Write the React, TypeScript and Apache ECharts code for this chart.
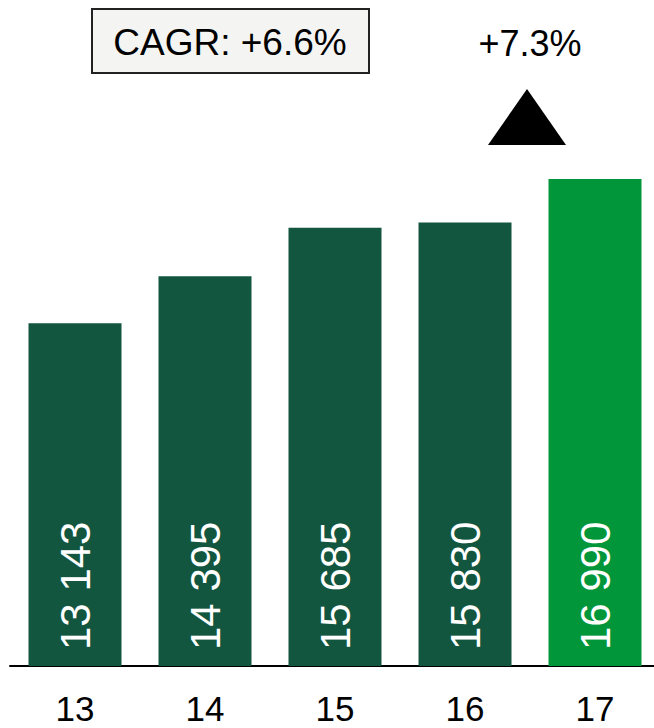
import React, { useEffect, useRef } from "react";
import * as echarts from "echarts";

const categories = ["13", "14", "15", "16", "17"];
const values = [13143, 14395, 15685, 15830, 16990];
const barColors = ["#13563f", "#13563f", "#13563f", "#13563f", "#02963a"];
const cagrText = "CAGR: +6.6%";
const growthText = "+7.3%";

const FONT = "'Liberation Sans', Arial, sans-serif";

function fmt(v: number): string {
  return String(v).replace(/\B(?=(\d{3})+(?!\d))/g, " ");
}

export default function App() {
  const ref = useRef<HTMLDivElement>(null);
  useEffect(() => {
    if (!ref.current) return;
    const chart = echarts.init(ref.current, null, { renderer: "svg" });
    chart.setOption({
      animation: false,
      backgroundColor: "#ffffff",
      textStyle: { fontFamily: FONT },
      grid: { left: 10, width: 650, top: 66, bottom: 62 },
      xAxis: {
        type: "category",
        data: categories,
        axisLine: { show: true, lineStyle: { color: "#000", width: 2 } },
        axisTick: { show: false },
        axisLabel: { color: "#000", fontSize: 35, fontFamily: FONT, margin: 25 },
      },
      yAxis: {
        type: "value",
        min: 4000,
        max: 20000,
        show: false,
        splitLine: { show: false },
      },
      series: [
        {
          type: "bar",
          data: values.map((v, i) => ({ value: v, itemStyle: { color: barColors[i] } })),
          barWidth: 93,
          label: {
            show: true,
            position: "insideBottom",
            rotate: 90,
            align: "left",
            verticalAlign: "middle",
            distance: 16,
            color: "#fff",
            fontSize: 42,
            fontFamily: FONT,
            formatter: (p: any) => fmt(p.value),
          },
        },
      ],
      graphic: [
        {
          type: "rect",
          shape: { x: 92, y: 9, width: 277, height: 64 },
          style: { fill: "#f4f4f2", stroke: "#222", lineWidth: 2 },
        },
        {
          type: "text",
          x: 230,
          y: 42,
          style: {
            text: cagrText,
            fill: "#000",
            fontSize: 37,
            fontFamily: FONT,
            align: "center",
            verticalAlign: "middle",
          },
        },
        {
          type: "text",
          x: 530,
          y: 43,
          style: {
            text: growthText,
            fill: "#000",
            fontSize: 36,
            fontFamily: FONT,
            align: "center",
            verticalAlign: "middle",
          },
        },
        {
          type: "polygon",
          shape: { points: [[527, 89], [488, 145], [566, 145]] },
          style: { fill: "#000" },
        },
      ],
    });
    return () => chart.dispose();
  }, []);
  return (
    <div
      style={{
        position: "absolute",
        left: 0,
        top: 0,
        width: 654,
        height: 728,
        overflow: "hidden",
        background: "#fff",
      }}
    >
      <div ref={ref} style={{ width: 670, height: 728 }} />
    </div>
  );
}
